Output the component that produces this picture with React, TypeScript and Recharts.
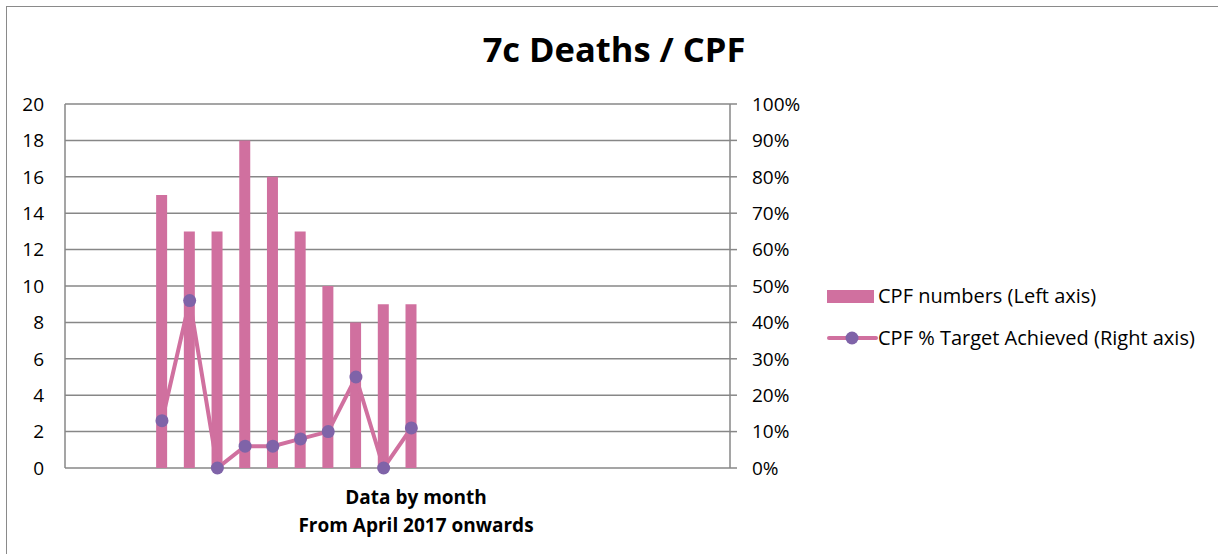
import { ComposedChart, Bar, Line, XAxis, YAxis, CartesianGrid } from 'recharts'

// 24 monthly slots on the category axis, data begins April 2017
const months = [
  'Jan-17', 'Feb-17', 'Mar-17', 'Apr-17', 'May-17', 'Jun-17',
  'Jul-17', 'Aug-17', 'Sep-17', 'Oct-17', 'Nov-17', 'Dec-17',
  'Jan-18', 'Feb-18', 'Mar-18', 'Apr-18', 'May-18', 'Jun-18',
  'Jul-18', 'Aug-18', 'Sep-18', 'Oct-18', 'Nov-18', 'Dec-18',
]
const cpfNumbers = [null, null, null, 15, 13, 13, 18, 16, 13, 10, 8, 9, 9, null, null, null, null, null, null, null, null, null, null, null]
const cpfPct = [null, null, null, 0.13, 0.46, 0, 0.06, 0.06, 0.08, 0.1, 0.25, 0, 0.11, null, null, null, null, null, null, null, null, null, null, null]
const leftTicks = [0, 2, 4, 6, 8, 10, 12, 14, 16, 18, 20]
const rightTicks = [0, 0.1, 0.2, 0.3, 0.4, 0.5, 0.6, 0.7, 0.8, 0.9, 1]

const BAR_COLOR = '#D0709F'
const DOT_COLOR = '#7F63A8'
const GRID = '#878787'
const FONT = '"Open Sans", sans-serif'

const data = months.map((m, i) => ({ month: m, numbers: cpfNumbers[i], pct: cpfPct[i] }))

function LegendBox() {
  return (
    <div
      style={{
        position: 'absolute', left: 827, top: 285,
        fontFamily: FONT, fontSize: 20, color: '#000', lineHeight: '22px', whiteSpace: 'nowrap',
      }}
    >
      <div style={{ display: 'flex', alignItems: 'center', height: 22 }}>
        <span style={{ display: 'inline-block', width: 47, height: 13, background: BAR_COLOR, marginRight: 4 }} />
        CPF numbers (Left axis)
      </div>
      <div style={{ display: 'flex', alignItems: 'center', height: 22, marginTop: 20 }}>
        <svg width={51} height={16}>
          <line x1={2} y1={8} x2={49} y2={8} stroke={BAR_COLOR} strokeWidth={4} strokeLinecap="round" />
          <circle cx={25} cy={8} r={6.5} fill={DOT_COLOR} />
        </svg>
        CPF % Target Achieved (Right axis)
      </div>
    </div>
  )
}

export default function App() {
  return (
    <div style={{ position: 'absolute', left: 0, top: 0, width: 1218, height: 554, background: '#fff', overflow: 'hidden' }}>
      <div style={{ position: 'absolute', left: 6, top: 6, width: 1230, height: 570, border: '1.5px solid #8a8a8a' }} />
      <div
        style={{
          position: 'absolute', left: 0, width: 1228, top: 25, textAlign: 'center',
          fontFamily: FONT, fontWeight: 700, fontSize: 34.5, color: '#000',
        }}
      >
        7c Deaths / CPF
      </div>
      <div
        style={{
          position: 'absolute', left: 266, width: 300, top: 483, textAlign: 'center',
          fontFamily: FONT, fontWeight: 700, fontSize: 19, lineHeight: '28px', color: '#000', whiteSpace: 'nowrap',
        }}
      >
        Data by month<br />From April 2017 onwards
      </div>
      <div style={{ position: 'absolute', left: 0, top: 0 }}>
        <ComposedChart
          width={1218}
          height={554}
          data={data}
          margin={{ top: 104, right: 408, bottom: 86, left: 0 }}
          barCategoryGap={0}
        >
          <CartesianGrid vertical={false} stroke={GRID} strokeWidth={1.5} yAxisId="left" />
          <XAxis dataKey="month" tick={false} tickLine={false} axisLine={false} height={0} />
          <YAxis
            yAxisId="left"
            domain={[0, 20]}
            ticks={leftTicks}
            width={65}
            tickLine={false}
            tickMargin={15}
            axisLine={{ stroke: GRID, strokeWidth: 1.5 }}
            tick={{ fill: '#000', fontSize: 19, fontFamily: FONT }}
            interval={0}
          />
          <YAxis
            yAxisId="right"
            orientation="right"
            domain={[0, 1]}
            ticks={rightTicks}
            width={80}
            tickSize={7}
            tickMargin={15}
            axisLine={{ stroke: GRID, strokeWidth: 1.5 }}
            tickLine={{ stroke: GRID, strokeWidth: 1.5 }}
            tick={{ fill: '#000', fontSize: 19, fontFamily: FONT, textAnchor: 'start' }}
            tickFormatter={(v: number) => `${Math.round(v * 100)}%`}
            interval={0}
          />
          <Bar
            yAxisId="left"
            dataKey="numbers"
            name="CPF numbers (Left axis)"
            fill={BAR_COLOR}
            barSize={11}
            isAnimationActive={false}
          />
          <Line
            yAxisId="right"
            dataKey="pct"
            name="CPF % Target Achieved (Right axis)"
            stroke={BAR_COLOR}
            strokeWidth={4}
            dot={{ r: 6.5, fill: DOT_COLOR, stroke: 'none' }}
            activeDot={false}
            isAnimationActive={false}
          />
        </ComposedChart>
      </div>
      <LegendBox />
    </div>
  )
}
